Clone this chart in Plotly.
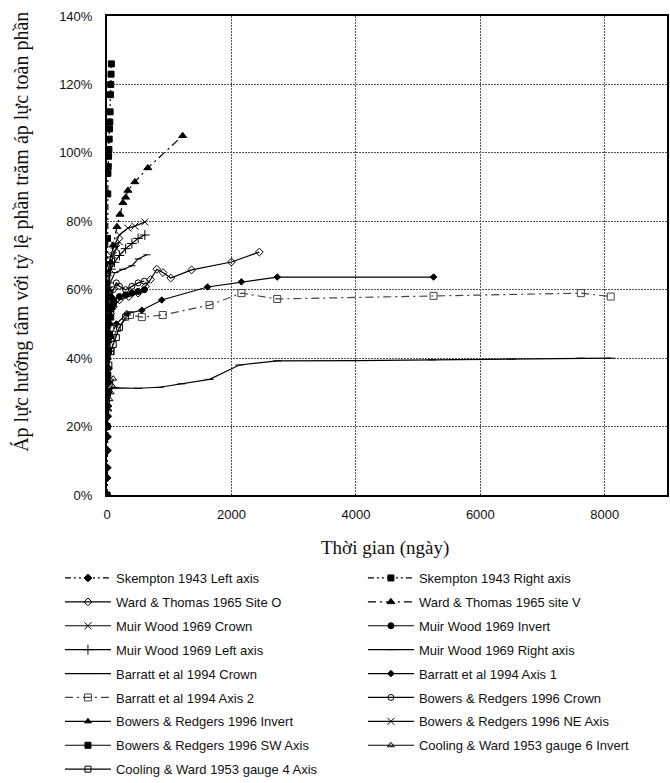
import plotly.graph_objects as go

# ---------------- data (days, % of full overburden) ----------------
skempton_left_x = [0, 2, 4, 6, 8, 10, 12, 14, 17, 20, 25, 30, 35, 40, 50, 60]
skempton_left_y = [0, 5, 8, 13, 17, 20, 23, 26, 30, 33, 37, 42, 46, 50, 55, 58]

skempton_right_x = [1, 3, 5, 8, 12, 15, 20, 25, 30, 35, 40, 45, 50, 55, 60, 65, 70]
skempton_right_y = [0, 30, 55, 75, 88, 94, 96, 99, 101, 104, 107, 109, 112, 117, 120, 123, 126]

ward_o_x = [10, 30, 60, 100, 200, 350, 500, 620, 700, 800, 900, 1024, 1360, 2000, 2448]
ward_o_y = [45, 50, 53, 55, 57, 58, 59, 61, 63, 66, 65, 63.4, 65.8, 68.1, 71]

ward_v_x = [10, 30, 60, 100, 160, 208, 256, 300, 336, 448, 656, 1216]
ward_v_y = [45, 60, 68, 73, 78.4, 82, 85.4, 87, 89, 91.5, 95.6, 105]

mw_crown_x = [5, 20, 60, 120, 200, 336, 448, 608]
mw_crown_y = [55, 65, 70, 73, 76, 78, 78.6, 79.8]

mw_invert_x = [5, 20, 50, 100, 200, 300, 400, 500, 600]
mw_invert_y = [40, 50, 55, 57, 58, 58.5, 59, 59.5, 60]

mw_left_x = [5, 20, 60, 120, 200, 300, 400, 500, 608]
mw_left_y = [50, 60, 66, 68, 70, 72, 73.5, 75, 76]

mw_right_x = [10, 50, 128, 250, 400, 500, 640]
mw_right_y = [55, 62, 65, 66, 67, 69, 70.2]

barratt_crown_x = [5, 30, 128, 500, 848, 1200, 1648, 2128, 2736, 4000, 5216, 6500, 7616, 8096]
barratt_crown_y = [25, 31, 31.3, 31.2, 31.5, 32.5, 33.8, 38, 39.2, 39.3, 39.5, 39.7, 40, 40]

barratt_ax1_x = [5, 50, 150, 320, 560, 880, 1616, 2160, 2736, 5248]
barratt_ax1_y = [40, 46, 50, 53, 54, 57, 60.8, 62.3, 63.7, 63.7]

barratt_ax2_x = [5, 60, 160, 368, 560, 896, 1648, 2160, 2736, 5248, 7616, 8096]
barratt_ax2_y = [35, 42, 48.8, 52.6, 52, 52.6, 55.5, 59, 57.3, 58.2, 59, 58]

bowers_crown_x = [5, 30, 60, 100, 150, 200, 300, 400, 500, 600]
bowers_crown_y = [45, 52, 56, 60, 62, 61, 60, 61, 62, 62.5]

bowers_invert_x = [2, 10, 20, 40, 60, 80, 100]
bowers_invert_y = [30, 40, 45, 50, 54, 56, 57]

bowers_ne_x = [5, 20, 50, 100, 150, 200]
bowers_ne_y = [50, 60, 66, 70, 72, 74]

bowers_sw_x = [2, 10, 20, 40, 60, 80, 100]
bowers_sw_y = [20, 35, 42, 47, 52, 55, 56]

cooling6_x = [5, 20, 40, 60, 80, 100]
cooling6_y = [20, 25, 28, 30, 32, 34]

cooling4_x = [5, 30, 60, 100, 150, 200, 300]
cooling4_y = [30, 38, 42, 44, 46, 49, 52]

x_ticks = [0, 2000, 4000, 6000, 8000]
y_ticks = [0, 20, 40, 60, 80, 100, 120, 140]

# ---------------- series definitions ----------------
BLACK = "#000000"
DD = "6px,3px,2px,3px,2px,3px"
DA = "8px,4px,2px,4px"

series = [
    ("Skempton 1943 Left axis", skempton_left_x, skempton_left_y, "diamond", 6, DD, BLACK),
    ("Skempton 1943 Right axis", skempton_right_x, skempton_right_y, "square", 6, DD, BLACK),
    ("Ward & Thomas 1965 Site O", ward_o_x, ward_o_y, "diamond-open", 6, "solid", BLACK),
    ("Ward & Thomas 1965 site V", ward_v_x, ward_v_y, "triangle-up", 7, DA, BLACK),
    ("Muir Wood 1969 Crown", mw_crown_x, mw_crown_y, "x-thin-open", 7, "solid", BLACK),
    ("Muir Wood 1969 Invert", mw_invert_x, mw_invert_y, "circle", 6, "solid", BLACK),
    ("Muir Wood 1969 Left axis", mw_left_x, mw_left_y, "cross-thin-open", 7, "solid", BLACK),
    ("Muir Wood 1969 Right axis", mw_right_x, mw_right_y, "line-ew-open", 5, "solid", BLACK),
    ("Barratt et al 1994 Crown", barratt_crown_x, barratt_crown_y, "line-ew-open", 6, "solid", BLACK),
    ("Barratt et al 1994 Axis 1", barratt_ax1_x, barratt_ax1_y, "diamond", 5, "solid", BLACK),
    ("Barratt et al 1994 Axis 2", barratt_ax2_x, barratt_ax2_y, "square-open", 7, DA, "#444444"),
    ("Bowers & Redgers 1996 Crown", bowers_crown_x, bowers_crown_y, "circle-open", 6, "solid", BLACK),
    ("Bowers & Redgers 1996 Invert", bowers_invert_x, bowers_invert_y, "triangle-up", 6, "solid", BLACK),
    ("Bowers & Redgers 1996 NE Axis", bowers_ne_x, bowers_ne_y, "x-thin-open", 7, "solid", BLACK),
    ("Bowers & Redgers 1996 SW Axis", bowers_sw_x, bowers_sw_y, "square", 6, "solid", BLACK),
    ("Cooling & Ward 1953 gauge 6 Invert", cooling6_x, cooling6_y, "triangle-up-open", 6, "solid", BLACK),
    ("Cooling & Ward 1953 gauge 4 Axis", cooling4_x, cooling4_y, "square-open", 6, "solid", BLACK),
]

SANS = "Liberation Sans, Arial, sans-serif"
SERIF = "Liberation Serif, Times New Roman, serif"

fig = go.Figure()
for i, (name, xs, ys, sym, size, dash, col) in enumerate(series):
    fig.add_trace(go.Scatter(
        x=xs, y=ys, name=name, mode="lines+markers",
        legend="legend" if i % 2 == 0 else "legend2",
        legendgroup=f"g{i}",
        line=dict(color=col, width=1.2, dash=dash),
        marker=dict(symbol=sym, size=size, color=col,
                    line=dict(color=col, width=1)),
    ))

legend_common = dict(
    orientation="v", yanchor="top", xanchor="left",
    itemwidth=46, tracegroupgap=4,
    font=dict(family=SANS, size=13, color="#111"),
    bgcolor="rgba(0,0,0,0)",
)

fig.update_layout(
    width=670, height=783,
    paper_bgcolor="white", plot_bgcolor="white",
    margin=dict(l=107, r=3, t=16, b=288, autoexpand=False),
    font=dict(family=SANS, size=13, color="#111"),
    showlegend=True,
    legend=dict(x=-0.084, y=-0.142, **legend_common),
    legend2=dict(x=0.457, y=-0.142, **legend_common),
    annotations=[
        dict(text="Áp lực hướng tâm với tỷ lệ phần trăm áp lực toàn phần",
             xref="paper", yref="paper", x=-0.153, y=0.55, xanchor="center", yanchor="middle",
             textangle=-90, showarrow=False,
             font=dict(family=SERIF, size=20, color="#111")),
        dict(text="Thời gian (ngày)",
             xref="paper", yref="paper", x=0.497, y=-0.11, xanchor="center", yanchor="middle",
             showarrow=False,
             font=dict(family=SERIF, size=19, color="#111")),
    ],
)

fig.update_xaxes(
    range=[0, 9000], tickvals=x_ticks, ticktext=[str(v) for v in x_ticks],
    showgrid=True, gridcolor="#555555", griddash="2px,1px", gridwidth=1,
    showline=True, linecolor="black", linewidth=2, mirror=True,
    zeroline=False, ticks="", ticklabelstandoff=6, automargin=False,
    tickfont=dict(family=SANS, size=13, color="#111"),
)
fig.update_yaxes(
    range=[0, 140], tickvals=y_ticks, ticktext=[f"{v}%" for v in y_ticks],
    showgrid=True, gridcolor="#555555", griddash="2px,1px", gridwidth=1,
    showline=True, linecolor="black", linewidth=2, mirror=True,
    zeroline=False, ticks="", ticklabelstandoff=10, automargin=False,
    tickfont=dict(family=SANS, size=13, color="#111"),
)

fig.write_html("out.html", config={"displayModeBar": False},
               post_script="document.body.style.margin='0';document.body.style.overflow='hidden';")
